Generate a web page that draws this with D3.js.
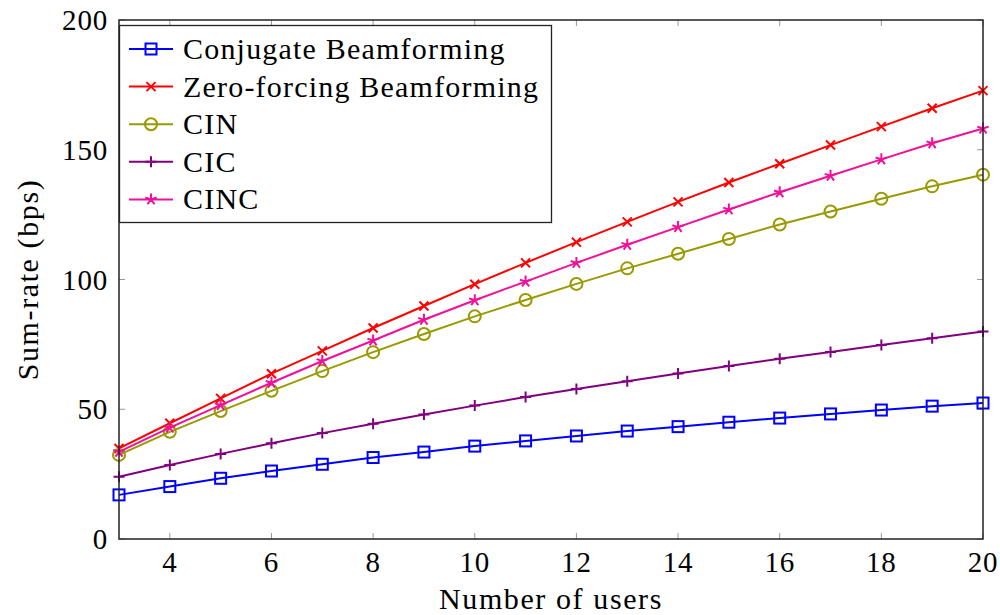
<!DOCTYPE html>
<html>
<head>
<meta charset="utf-8">
<script src="https://cdn.jsdelivr.net/npm/d3@7"></script>
<style>
  body { margin: 0; background: #fff; }
  text { font-family: "Liberation Serif", serif; fill: #000; }
</style>
</head>
<body>
<svg width="1000" height="615"></svg>
<script>
// data
let users = [3, 4, 5, 6, 7, 8, 9, 10, 11, 12, 13, 14, 15, 16, 17, 18, 19, 20];
let conjugate = [17.0, 20.2, 23.4, 26.2, 28.8, 31.4, 33.5, 35.8, 37.8, 39.7, 41.6, 43.3, 45.0, 46.6, 48.2, 49.7, 51.2, 52.4];
let zeroForcing = [34.9, 44.6, 54.2, 63.7, 72.5, 81.3, 89.8, 98.2, 106.4, 114.4, 122.2, 129.9, 137.4, 144.6, 151.8, 158.9, 166.0, 172.8];
let cin = [32.4, 41.3, 49.3, 57.1, 64.7, 72.0, 79.0, 85.8, 92.1, 98.3, 104.3, 109.9, 115.6, 121.2, 126.2, 131.1, 135.9, 140.4];
let cic = [24.0, 28.5, 32.8, 36.9, 40.8, 44.4, 48.0, 51.4, 54.7, 57.8, 60.8, 63.8, 66.7, 69.5, 72.1, 74.8, 77.4, 80.0];
let cinc = [33.6, 42.9, 51.6, 60.2, 68.6, 76.5, 84.5, 92.0, 99.2, 106.4, 113.4, 120.2, 127.0, 133.6, 140.0, 146.3, 152.5, 158.2];
let seriesNames = ["Conjugate Beamforming", "Zero-forcing Beamforming", "CIN", "CIC", "CINC"];
let seriesColors = ["#0000ff", "#ff0000", "#999900", "#800080", "#f0109a"];
let seriesMarks = ["square", "cross", "circle", "plus", "star"];
let xTicks = [4, 6, 8, 10, 12, 14, 16, 18, 20];
let yTicks = [0, 50, 100, 150, 200];

let series = [conjugate, zeroForcing, cin, cic, cinc];

let svg = d3.select("svg"),
    pLeft = 119, pRight = 983, pTop = 20, pBottom = 539;

let x = d3.scaleLinear().domain([3, 20]).range([pLeft, pRight]);
let y = d3.scaleLinear().domain([0, 200]).range([pBottom, pTop]);

// tick marks inside the frame, grey, on all four sides
let g = svg.append("g");
let tickLen = 6;
g.selectAll(".xt").data(xTicks).enter().append("line")
  .attr("x1", d => x(d)).attr("x2", d => x(d))
  .attr("y1", pBottom).attr("y2", pBottom - tickLen)
  .attr("stroke", "#999").attr("stroke-width", 1);
g.selectAll(".xt2").data(xTicks).enter().append("line")
  .attr("x1", d => x(d)).attr("x2", d => x(d))
  .attr("y1", pTop).attr("y2", pTop + tickLen)
  .attr("stroke", "#999").attr("stroke-width", 1);
g.selectAll(".yt").data(yTicks).enter().append("line")
  .attr("x1", pLeft).attr("x2", pLeft + tickLen)
  .attr("y1", d => y(d)).attr("y2", d => y(d))
  .attr("stroke", "#999").attr("stroke-width", 1);
g.selectAll(".yt2").data(yTicks).enter().append("line")
  .attr("x1", pRight).attr("x2", pRight - tickLen)
  .attr("y1", d => y(d)).attr("y2", d => y(d))
  .attr("stroke", "#999").attr("stroke-width", 1);

// tick labels
g.selectAll(".xl").data(xTicks).enter().append("text")
  .attr("x", d => x(d)).attr("y", 572)
  .attr("text-anchor", "middle").attr("font-size", 29)
  .attr("letter-spacing", 0.8)
  .text(d => d);
g.selectAll(".yl").data(yTicks).enter().append("text")
  .attr("x", 108).attr("y", d => y(d) + 10)
  .attr("text-anchor", "end").attr("font-size", 29)
  .attr("letter-spacing", 0.8)
  .text(d => d);

// axis titles
svg.append("text")
  .attr("x", (pLeft + pRight) / 2).attr("y", 609)
  .attr("text-anchor", "middle").attr("font-size", 30)
  .attr("letter-spacing", 1.6)
  .text("Number of users");
svg.append("text")
  .attr("transform", "translate(38," + ((pTop + pBottom) / 2) + ") rotate(-90)")
  .attr("text-anchor", "middle").attr("font-size", 30)
  .attr("letter-spacing", 1.6)
  .text("Sum-rate (bps)");

// markers
function drawMark(sel, kind, color) {
  let r = 5.5;
  if (kind == "square") {
    sel.append("rect").attr("x", -r).attr("y", -r).attr("width", 2 * r).attr("height", 2 * r)
      .attr("fill", "none").attr("stroke", color).attr("stroke-width", 2);
  } else if (kind == "circle") {
    sel.append("circle").attr("r", 6)
      .attr("fill", "none").attr("stroke", color).attr("stroke-width", 2);
  } else if (kind == "cross") {
    sel.append("path").attr("d", "M-4.5,-4.5L4.5,4.5M-4.5,4.5L4.5,-4.5")
      .attr("stroke", color).attr("stroke-width", 2);
  } else if (kind == "plus") {
    sel.append("path").attr("d", "M-5.5,0L5.5,0M0,-5.5L0,5.5")
      .attr("stroke", color).attr("stroke-width", 2);
  } else if (kind == "star") {
    let d = "";
    for (let k = 0; k < 5; k++) {
      let a = -Math.PI / 2 + k * 2 * Math.PI / 5;
      d += "M0,0L" + (6 * Math.cos(a)).toFixed(2) + "," + (6 * Math.sin(a)).toFixed(2);
    }
    sel.append("path").attr("d", d).attr("stroke", color).attr("stroke-width", 2);
  }
}

let line = d3.line().x((d, i) => x(users[i])).y(d => y(d));

series.forEach(function (vals, s) {
  let sg = svg.append("g");
  sg.append("path").datum(vals)
    .attr("d", line)
    .attr("fill", "none")
    .attr("stroke", seriesColors[s])
    .attr("stroke-width", 2);
  sg.selectAll("g").data(vals).enter().append("g")
    .attr("transform", (d, i) => "translate(" + x(users[i]) + "," + y(d) + ")")
    .each(function () { drawMark(d3.select(this), seriesMarks[s], seriesColors[s]); });
});

// frame
svg.append("rect")
  .attr("x", pLeft).attr("y", pTop)
  .attr("width", pRight - pLeft).attr("height", pBottom - pTop)
  .attr("fill", "none").attr("stroke", "#222").attr("stroke-width", 1.5);

// legend
let lg = svg.append("g");
lg.append("rect")
  .attr("x", 119.5).attr("y", 25.5).attr("width", 432).attr("height", 197)
  .attr("fill", "#fff").attr("stroke", "#222").attr("stroke-width", 1.3);
seriesNames.forEach(function (name, s) {
  let cy = 49 + s * 37.6;
  lg.append("line").attr("x1", 129).attr("x2", 173).attr("y1", cy).attr("y2", cy)
    .attr("stroke", seriesColors[s]).attr("stroke-width", 2);
  let mg = lg.append("g").attr("transform", "translate(151," + cy + ")");
  drawMark(mg, seriesMarks[s], seriesColors[s]);
  lg.append("text").attr("x", 183).attr("y", cy + 10)
    .attr("font-size", 30).attr("letter-spacing", 1.2).text(name);
});
</script>
</body>
</html>
